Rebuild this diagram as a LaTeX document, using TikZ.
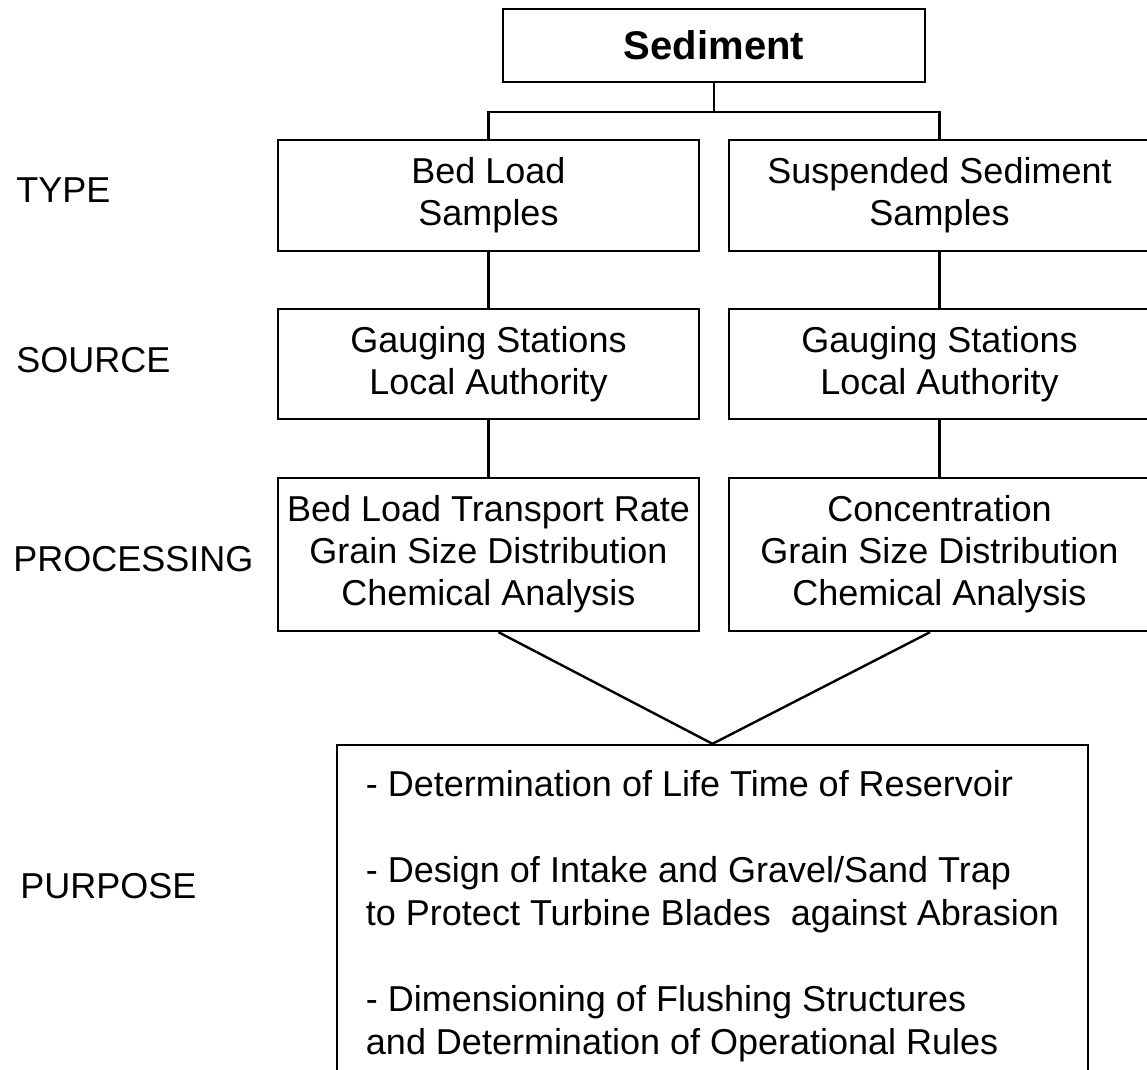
\documentclass[tikz,border=0pt]{standalone}
\usepackage{fontspec}
\setmainfont{Liberation Sans}
\usepackage{tikz}
\usetikzlibrary{positioning}

\tikzset{
    box/.style={draw, line width=1.2pt, align=center, inner xsep=1pt,
        font=\fontsize{18}{21}\selectfont},
    rowlabel/.style={anchor=west, inner sep=0pt, font=\fontsize{18}{21}\selectfont},
    link/.style={line width=1.2pt}
}

\begin{document}
\begin{tikzpicture}[x=0.5pt, y=-0.5pt]
        \clip (0,0) rectangle (1147,1070);

        \node[box, minimum width=211pt, minimum height=36.5pt,
            font=\fontsize{20}{24}\bfseries] (sed) at (714,45.5) {Sediment};

        \node[box, minimum width=210.5pt, minimum height=55.5pt] (typeL) at (488.5,195.5) {Bed Load\\Samples};
        \node[box, minimum width=210.5pt, minimum height=55.5pt] (typeR) at (939.5,195.5) {Suspended Sediment\\Samples};

        \node[box, minimum width=210.5pt, minimum height=55pt] (srcL) at (488.5,364) {Gauging Stations\\Local Authority};
        \node[box, minimum width=210.5pt, minimum height=55pt] (srcR) at (939.5,364) {Gauging Stations\\Local Authority};

        \node[box, minimum width=210.5pt, minimum height=76.5pt] (procL) at (488.5,554.5)
            {Bed Load Transport Rate\\Grain Size Distribution\\Chemical Analysis};
        \node[box, minimum width=210.5pt, minimum height=76.5pt] (procR) at (939.5,554.5)
            {Concentration\\Grain Size Distribution\\Chemical Analysis};

        \node[box, align=left, minimum width=375.5pt, minimum height=171pt,
            font=\fontsize{18}{21.5}\selectfont] (purp) at (712.5,916)
            {- Determination of Life Time of Reservoir\\[21.5pt]
             - Design of Intake and Gravel/Sand Trap\\
             to Protect Turbine Blades\ \ against Abrasion\\[21.5pt]
             - Dimensioning of Flushing Structures\\
             and Determination of Operational Rules};

        % row labels
        \node[rowlabel] (lblType) at (16,190) {TYPE};
        \node[rowlabel] (lblSource) at (16,360) {SOURCE};
        \node[rowlabel] (lblProc) at (13,559) {PROCESSING};
        \node[rowlabel] (lblPurp) at (20,886) {PURPOSE};

        \coordinate (split) at (714,112);
        \draw[link] (sed) -- (split);
        \draw[link] (typeL.north) |- (split) -| (typeR.north);
        \draw[link] (typeL) -- (srcL);
        \draw[link] (typeR) -- (srcR);
        \draw[link] (srcL) -- (procL);
        \draw[link] (srcR) -- (procR);
        \draw[link] ([xshift=5pt]procL.south) -- (purp.north) -- ([xshift=-4.75pt]procR.south);
    \end{tikzpicture}
\end{document}
